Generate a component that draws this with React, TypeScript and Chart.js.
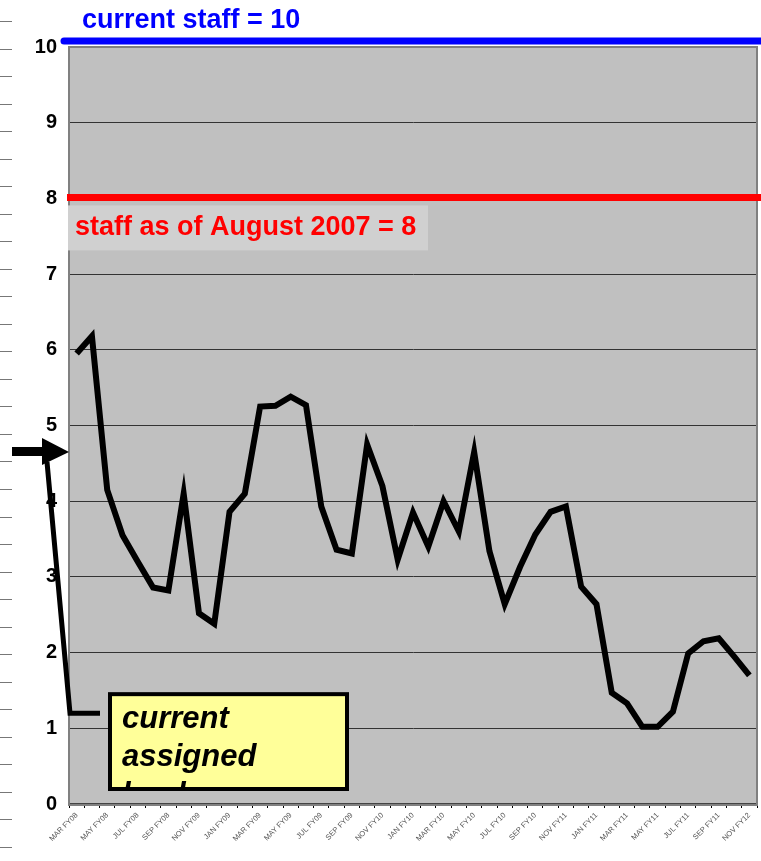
import React, { useEffect, useRef } from 'react';
import { Chart, registerables } from 'chart.js';

Chart.register(...registerables);

const months: string[] = [
  'MAR FY08', 'APR FY08', 'MAY FY08', 'JUN FY08', 'JUL FY08', 'AUG FY08', 'SEP FY08',
  'OCT FY09', 'NOV FY09', 'DEC FY09', 'JAN FY09', 'FEB FY09', 'MAR FY09', 'APR FY09',
  'MAY FY09', 'JUN FY09', 'JUL FY09', 'AUG FY09', 'SEP FY09',
  'OCT FY10', 'NOV FY10', 'DEC FY10', 'JAN FY10', 'FEB FY10', 'MAR FY10', 'APR FY10',
  'MAY FY10', 'JUN FY10', 'JUL FY10', 'AUG FY10', 'SEP FY10',
  'OCT FY11', 'NOV FY11', 'DEC FY11', 'JAN FY11', 'FEB FY11', 'MAR FY11', 'APR FY11',
  'MAY FY11', 'JUN FY11', 'JUL FY11', 'AUG FY11', 'SEP FY11',
  'OCT FY12', 'NOV FY12',
];

const assignedLoad: number[] = [
  5.95, 6.18, 4.15, 3.55, 3.2, 2.86, 2.82, 4.1, 2.52, 2.38, 3.86, 4.1, 5.25, 5.26, 5.38,
  5.27, 3.93, 3.36, 3.31, 4.75, 4.2, 3.23, 3.85, 3.4, 4.0, 3.6, 4.65, 3.34, 2.64, 3.13,
  3.56, 3.86, 3.93, 2.87, 2.64, 1.47, 1.33, 1.02, 1.02, 1.22, 1.99, 2.15, 2.19, 1.95, 1.7,
];

const yTicks: number[] = [0, 1, 2, 3, 4, 5, 6, 7, 8, 9, 10];

const CURRENT_STAFF = 10;
const AUG2007_STAFF = 8;
const ARROW_VALUE = 4.65;
const CALLOUT_VALUE = 1.2;

const currentStaffLabel = 'current staff = 10';
const augStaffLabel = 'staff as of August 2007 = 8';
const calloutLines: string[] = ['current', 'assigned', 'load'];

const FONT = '"Liberation Sans", Arial, sans-serif';

const annotations = {
  id: 'annotations',
  beforeDraw(chart: any) {
    const { ctx, chartArea } = chart;
    ctx.save();
    ctx.fillStyle = '#C0C0C0';
    ctx.fillRect(chartArea.left, chartArea.top, chartArea.right - chartArea.left, chartArea.bottom - chartArea.top);
    ctx.restore();
  },
  beforeDatasetsDraw(chart: any) {
    const { ctx, chartArea } = chart;
    ctx.save();
    ctx.strokeStyle = '#808080';
    ctx.lineWidth = 2;
    ctx.strokeRect(chartArea.left, chartArea.top, chartArea.right - chartArea.left, chartArea.bottom - chartArea.top + 1);
    ctx.restore();
  },
  afterDraw(chart: any) {
    const { ctx, chartArea, width } = chart;
    const y = chart.scales.y;
    const left = chartArea.left;
    ctx.save();

    // red staff line and its label
    const redY = y.getPixelForValue(AUG2007_STAFF) - 1;
    ctx.fillStyle = '#D0D0D0';
    ctx.fillRect(left - 1, redY + 8, 360, 45);
    ctx.strokeStyle = '#FF0000';
    ctx.lineWidth = 7;
    ctx.lineCap = 'butt';
    ctx.beginPath();
    ctx.moveTo(left - 2, redY);
    ctx.lineTo(width, redY);
    ctx.stroke();
    ctx.fillStyle = '#FF0000';
    ctx.font = `bold 27px ${FONT}`;
    ctx.textBaseline = 'middle';
    ctx.textAlign = 'left';
    ctx.fillText(augStaffLabel, left + 6, redY + 30);

    // blue current staff line and label
    const blueY = y.getPixelForValue(CURRENT_STAFF) - 6;
    ctx.strokeStyle = '#0000FF';
    ctx.lineWidth = 7;
    ctx.lineCap = 'round';
    ctx.beginPath();
    ctx.moveTo(left - 5, blueY);
    ctx.lineTo(width + 10, blueY);
    ctx.stroke();
    ctx.fillStyle = '#0000FF';
    ctx.fillText(currentStaffLabel, left + 13, blueY - 20);

    // arrow pointing at the axis
    const aY = y.getPixelForValue(ARROW_VALUE);
    ctx.fillStyle = '#000';
    ctx.fillRect(12, aY - 5, 32, 9);
    ctx.beginPath();
    ctx.moveTo(42, aY - 14);
    ctx.lineTo(left, aY);
    ctx.lineTo(42, aY + 13);
    ctx.closePath();
    ctx.fill();

    // callout leader line
    const cY = y.getPixelForValue(CALLOUT_VALUE);
    ctx.strokeStyle = '#000';
    ctx.lineWidth = 5;
    ctx.lineCap = 'butt';
    ctx.lineJoin = 'miter';
    ctx.beginPath();
    ctx.moveTo(47, aY + 10);
    ctx.lineTo(left + 1, cY);
    ctx.lineTo(100, cY);
    ctx.stroke();

    // callout box
    const bx = 110;
    const by = cY - 19;
    const bw = 237;
    const bh = y.getPixelForValue(0) - 15 - by;
    ctx.fillStyle = '#FFFF99';
    ctx.fillRect(bx, by, bw, bh);
    ctx.save();
    ctx.beginPath();
    ctx.rect(bx, by, bw, bh);
    ctx.clip();
    ctx.fillStyle = '#000';
    ctx.font = `italic bold 31px ${FONT}`;
    ctx.textBaseline = 'middle';
    calloutLines.forEach((t, i) => ctx.fillText(t, bx + 12, by + 25 + i * 38));
    ctx.restore();
    ctx.strokeStyle = '#000';
    ctx.lineWidth = 4;
    ctx.strokeRect(bx, by, bw, bh);

    ctx.restore();
  },
};

export default function App() {
  const ref = useRef<HTMLCanvasElement | null>(null);

  useEffect(() => {
    document.body.style.margin = '0';
    if (!ref.current) return;
    const chart = new Chart(ref.current, {
      type: 'line',
      data: {
        labels: months,
        datasets: [
          {
            data: assignedLoad,
            borderColor: '#000',
            borderWidth: 6,
            pointRadius: 0,
            tension: 0,
            borderJoinStyle: 'miter',
            fill: false,
          },
        ],
      },
      options: {
        responsive: false,
        animation: false,
        devicePixelRatio: 1,
        layout: { padding: { top: 47, right: 4, left: 0, bottom: 0 } },
        plugins: { legend: { display: false }, tooltip: { enabled: false } },
        scales: {
          x: {
            type: 'category',
            offset: true,
            afterFit: (s: any) => { s.height = 57; },
            grid: {
              offset: true,
              drawOnChartArea: false,
              drawTicks: true,
              tickLength: 4,
              color: '#000',
            },
            border: { color: '#444', width: 2 },
            ticks: {
              autoSkip: false,
              maxRotation: 45,
              minRotation: 45,
              padding: 3,
              color: '#555',
              font: { family: FONT, size: 7.5 },
              callback: (_v: any, i: number) => (i % 2 === 0 ? months[i] : ''),
            },
          },
          y: {
            min: 0,
            max: 10,
            afterFit: (s: any) => { s.width = 69; },
            afterBuildTicks: (s: any) => { s.ticks = yTicks.map((v) => ({ value: v })); },
            grid: { color: '#333', lineWidth: 1, drawTicks: false },
            border: { color: '#000', width: 1 },
            ticks: {
              padding: 12,
              color: '#000',
              font: { family: FONT, size: 20, weight: 'bold' },
            },
          },
        },
      },
      plugins: [annotations],
    });
    return () => chart.destroy();
  }, []);

  return (
    <div style={{ position: 'fixed', left: 0, top: 0, width: 761, height: 861, background: '#fff' }}>
      <canvas ref={ref} width={761} height={861} style={{ width: 761, height: 861, display: 'block' }} />
      <div
        style={{
          position: 'absolute',
          left: 0,
          top: 0,
          width: 12,
          height: 861,
          backgroundImage:
            'repeating-linear-gradient(to bottom, transparent 0px, transparent 21px, #777 21px, #777 22px, transparent 22px, transparent 27.53px)',
        }}
      />
    </div>
  );
}
